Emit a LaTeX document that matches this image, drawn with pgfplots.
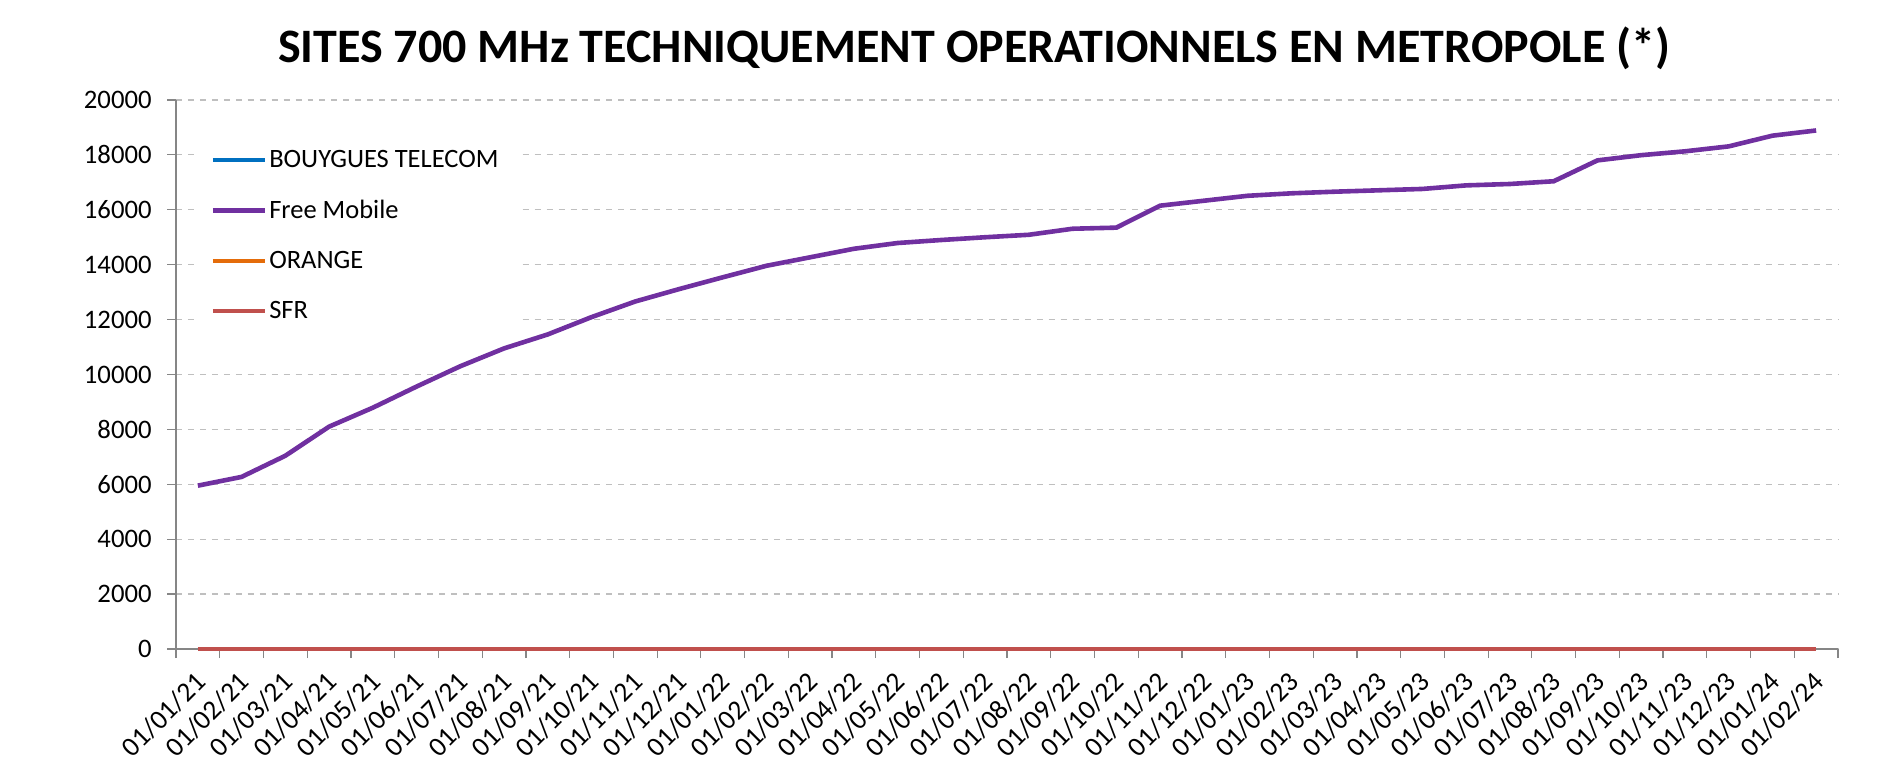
\documentclass[border=0pt]{standalone}
\usepackage{pgfplots}
\usepackage{pgfplotstable}
\pgfplotsset{compat=1.18}
\usepackage{fontspec}
\setmainfont{Carlito}
\definecolor{bouygues}{HTML}{0070C0}
\definecolor{free}{HTML}{7030A0}
\definecolor{orangec}{HTML}{E46C0A}
\definecolor{sfr}{HTML}{C0504D}
\definecolor{gridc}{HTML}{BFBFBF}
\definecolor{axisc}{HTML}{868686}
\pgfplotstableread{
x bouygues free orange sfr
0 0 5950 0 0
1 0 6270 0 0
2 0 7040 0 0
3 0 8100 0 0
4 0 8790 0 0
5 0 9560 0 0
6 0 10300 0 0
7 0 10950 0 0
8 0 11460 0 0
9 0 12090 0 0
10 0 12660 0 0
11 0 13110 0 0
12 0 13540 0 0
13 0 13960 0 0
14 0 14270 0 0
15 0 14580 0 0
16 0 14790 0 0
17 0 14900 0 0
18 0 15000 0 0
19 0 15090 0 0
20 0 15310 0 0
21 0 15350 0 0
22 0 16150 0 0
23 0 16330 0 0
24 0 16510 0 0
25 0 16600 0 0
26 0 16660 0 0
27 0 16710 0 0
28 0 16760 0 0
29 0 16890 0 0
30 0 16940 0 0
31 0 17040 0 0
32 0 17800 0 0
33 0 17990 0 0
34 0 18130 0 0
35 0 18310 0 0
36 0 18700 0 0
37 0 18890 0 0
}\datatable
\begin{document}
\begin{tikzpicture}
\useasboundingbox (0,0) rectangle (940bp,379bp);
\node[font=\bfseries\fontsize{24.1}{29}\selectfont, anchor=center] at (487bp,355bp) {SITES 700 MHz TECHNIQUEMENT OPERATIONNELS EN METROPOLE (*)};
\begin{axis}[
  at={(88bp,54.5bp)}, anchor=south west,
  scale only axis, width=831bp, height=274.5bp,
  xmin=-0.5, xmax=37.5, ymin=0, ymax=20000,
  clip=false,
  axis lines*=left,
  axis line style={axisc, line width=0.6bp},
  ytick={0,2000,...,20000},
  ymajorgrids, grid style={gridc, dashed, line width=0.6bp},
  xtick={0,...,37},
  xticklabels={01/01/21,01/02/21,01/03/21,01/04/21,01/05/21,01/06/21,01/07/21,01/08/21,01/09/21,01/10/21,01/11/21,01/12/21,01/01/22,01/02/22,01/03/22,01/04/22,01/05/22,01/06/22,01/07/22,01/08/22,01/09/22,01/10/22,01/11/22,01/12/22,01/01/23,01/02/23,01/03/23,01/04/23,01/05/23,01/06/23,01/07/23,01/08/23,01/09/23,01/10/23,01/11/23,01/12/23,01/01/24,01/02/24},
  minor xtick={-0.5,0.5,...,37.5},
  tick align=outside,
  major tick length=4.5bp, minor tick length=4.5bp,
  major x tick style={draw=none},
  minor x tick style={axisc, line width=0.6bp},
  ytick style={axisc, line width=0.6bp},
  scaled y ticks=false,
  /pgf/number format/assume math mode=true,
  /pgf/number format/1000 sep={},
  xticklabel style={font=\fontsize{13.8}{16}\selectfont, rotate=45, anchor=north east, inner sep=0.5bp, xshift=-5.3bp, yshift=-2.2bp},
  yticklabel style={font=\fontsize{13.4}{16}\selectfont, inner sep=2bp, xshift=-5.5bp},
  legend cell align=left,
  legend image code/.code={\draw[#1] (0bp,0bp) -- (26bp,0bp);},
  legend style={draw=none, fill=white, at={(0.011,0.928)}, anchor=north west,
    font=\fontsize{13.3}{16}\selectfont, row sep=12.9bp, inner xsep=8bp, inner ysep=4bp,
    nodes={inner sep=1bp}},
  every axis plot/.append style={line width=2.3bp},
]
\addplot[bouygues] table[x=x, y=bouygues] {\datatable};
\addlegendentry{BOUYGUES TELECOM}
\addplot[free] table[x=x, y=free] {\datatable};
\addlegendentry{Free Mobile}
\addplot[orangec] table[x=x, y=orange] {\datatable};
\addlegendentry{ORANGE}
\addplot[sfr] table[x=x, y=sfr] {\datatable};
\addlegendentry{SFR}
\end{axis}
\end{tikzpicture}
\end{document}
